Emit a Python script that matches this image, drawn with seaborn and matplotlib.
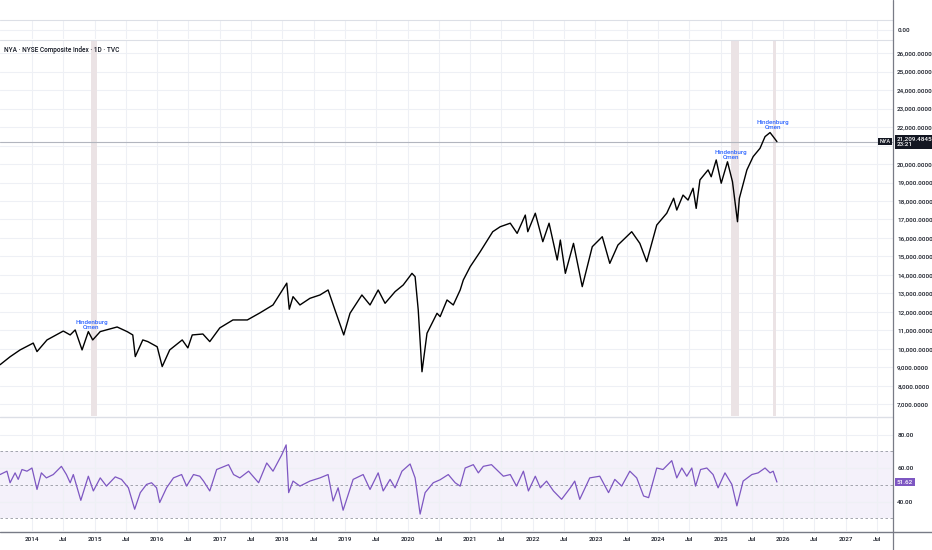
import numpy as np
import pandas as pd
import matplotlib
matplotlib.use("Agg")
import matplotlib.pyplot as plt
import matplotlib.transforms as mtransforms
from matplotlib.lines import Line2D
import seaborn as sns

# ---------------- data ----------------
title = "NYA · NYSE Composite Index · 1D · TVC"
price_t = [2013.49, 2013.65, 2013.81, 2014.02, 2014.08, 2014.24, 2014.50, 2014.61, 2014.69, 2014.80,
           2014.90, 2014.97, 2015.09, 2015.36, 2015.52, 2015.61, 2015.65, 2015.77, 2015.85, 2016.00,
           2016.08, 2016.20, 2016.40, 2016.49, 2016.56, 2016.73, 2016.84, 2017.00, 2017.21, 2017.44,
           2017.64, 2017.85, 2018.07, 2018.11, 2018.17, 2018.28, 2018.44, 2018.60, 2018.73, 2018.84,
           2018.98, 2019.08, 2019.27, 2019.40, 2019.53, 2019.64, 2019.80, 2019.93, 2020.07, 2020.12,
           2020.17, 2020.23, 2020.31, 2020.39, 2020.47, 2020.52, 2020.63, 2020.73, 2020.84, 2020.89,
           2021.00, 2021.16, 2021.36, 2021.48, 2021.64, 2021.75, 2021.88, 2021.92, 2022.04, 2022.16,
           2022.26, 2022.39, 2022.44, 2022.52, 2022.65, 2022.79, 2022.95, 2023.11, 2023.23, 2023.36,
           2023.58, 2023.71, 2023.82, 2023.98, 2024.14, 2024.25, 2024.30, 2024.40, 2024.48, 2024.56,
           2024.61, 2024.67, 2024.80, 2024.85, 2024.93, 2025.01, 2025.11, 2025.19, 2025.27, 2025.30,
           2025.42, 2025.52, 2025.63, 2025.71, 2025.79, 2025.84, 2025.90]
price_v = [9150, 9580, 9950, 10320, 9860, 10490, 10970, 10760, 11030, 9950,
           10940, 10490, 10940, 11190, 10940, 10760, 9590, 10490, 10400, 10120,
           9050, 9950, 10490, 10060, 10760, 10810, 10400, 11140, 11570, 11570,
           11950, 12380, 13560, 12150, 12830, 12380, 12740, 12920, 13190, 12110,
           10760, 11930, 12920, 12380, 13190, 12470, 13100, 13460, 14090, 13910,
           12110, 8770, 10850, 11390, 11930, 11750, 12650, 12380, 13190, 13730,
           14450, 15260, 16340, 16610, 16800, 16250, 17240, 16340, 17340, 15800,
           16800, 14810, 15890, 14090, 15710, 13370, 15530, 16070, 14630, 15620,
           16340, 15710, 14720, 16700, 17340, 18150, 17510, 18320, 18050, 18690,
           17600, 19140, 19680, 19310, 20220, 18960, 20120, 19040, 16880, 18150,
           19680, 20400, 20850, 21480, 21700, 21480, 21209.4845]
last_price_text = "21,209.4845"
last_time_text = "23:21"
symbol = "NYA"

rsi_t = [2013.49, 2013.60, 2013.65, 2013.73, 2013.78, 2013.84, 2013.92, 2014.00, 2014.08, 2014.15,
         2014.23, 2014.34, 2014.47, 2014.55, 2014.61, 2014.66, 2014.78, 2014.90, 2014.98, 2015.09,
         2015.19, 2015.33, 2015.43, 2015.54, 2015.64, 2015.73, 2015.83, 2015.91, 2015.99, 2016.04,
         2016.15, 2016.26, 2016.39, 2016.47, 2016.58, 2016.68, 2016.74, 2016.84, 2016.95, 2017.14,
         2017.22, 2017.32, 2017.46, 2017.62, 2017.75, 2017.85, 2017.99, 2018.06, 2018.10, 2018.17,
         2018.28, 2018.44, 2018.60, 2018.73, 2018.81, 2018.89, 2018.97, 2019.13, 2019.29, 2019.40,
         2019.53, 2019.61, 2019.72, 2019.80, 2019.91, 2020.04, 2020.12, 2020.20, 2020.28, 2020.41,
         2020.52, 2020.65, 2020.76, 2020.84, 2020.92, 2021.05, 2021.13, 2021.21, 2021.34, 2021.42,
         2021.53, 2021.64, 2021.74, 2021.85, 2021.93, 2022.04, 2022.12, 2022.22, 2022.33, 2022.46,
         2022.60, 2022.67, 2022.75, 2022.91, 2023.07, 2023.21, 2023.31, 2023.42, 2023.55, 2023.66,
         2023.77, 2023.85, 2023.98, 2024.08, 2024.22, 2024.30, 2024.38, 2024.46, 2024.54, 2024.60,
         2024.68, 2024.78, 2024.88, 2024.96, 2025.07, 2025.18, 2025.26, 2025.36, 2025.50, 2025.60,
         2025.71, 2025.79, 2025.84, 2025.90]
rsi_v = [56.1, 58.1, 51.2, 57.1, 53.2, 59.1, 58.1, 60.0, 47.2, 57.1,
         54.1, 56.1, 61.0, 56.1, 51.2, 56.1, 40.7, 55.1, 46.3, 54.1,
         49.2, 54.7, 53.2, 48.2, 35.4, 45.3, 50.2, 51.2, 48.2, 39.4,
         48.2, 54.1, 56.1, 49.2, 56.1, 55.1, 52.2, 46.3, 59.1, 62.0,
         56.1, 54.1, 58.1, 51.2, 63.0, 58.1, 67.9, 73.8, 45.3, 52.2,
         49.2, 52.2, 54.1, 56.1, 40.3, 48.2, 34.8, 53.2, 56.1, 47.2,
         57.1, 46.3, 53.2, 48.2, 58.1, 62.4, 54.1, 32.5, 45.3, 51.2,
         53.0, 56.1, 51.2, 49.2, 60.0, 62.0, 57.1, 61.0, 62.0, 59.1,
         55.1, 56.1, 49.2, 58.1, 46.3, 55.1, 48.2, 52.2, 46.3, 41.3,
         48.2, 52.2, 41.3, 54.1, 55.1, 45.3, 53.2, 49.2, 58.1, 54.1,
         43.3, 42.3, 60.0, 59.1, 64.4, 54.1, 60.0, 55.1, 60.0, 49.2,
         59.1, 60.0, 56.1, 48.2, 57.1, 50.2, 37.4, 52.2, 56.1, 57.1,
         60.0, 57.1, 58.1, 51.62]
rsi_levels = [70, 50, 30]

omen_start = [2014.95, 2025.16, 2025.83]
omen_end = [2015.04, 2025.29, 2025.89]
omen_label = "Hindenburg\nOmen"

price_ticks = list(range(7000, 27000, 1000))
rsi_ticks = [40, 60, 80]
date_ticks = [2014 + 0.5 * i for i in range(28)]
date_labels = [str(int(t)) if float(t).is_integer() else "Jul" for t in date_ticks]

# ---------------- styling ----------------
sns.set_theme(style="white")
plt.rcParams['font.family'] = ['Roboto', 'DejaVu Sans']
plt.rcParams['font.weight'] = 500

W, H = 932, 550
fig = plt.figure(figsize=(W / 100, H / 100), dpi=100)
fig.patch.set_facecolor("white")


def rect(x0, y0, x1, y1):
    return [x0 / W, 1 - y1 / H, (x1 - x0) / W, (y1 - y0) / H]


XR = 893
ax_top = fig.add_axes(rect(0, 20, XR, 39))
ax_main = fig.add_axes(rect(0, 40, XR, 416))
ax_rsi = fig.add_axes(rect(0, 418, XR, 531))

xlim = (2013.489, 2027.754)
GRID = "#eef0f5"
TXT = "#131722"
FS = 4.5

for ax in (ax_top, ax_main, ax_rsi):
    ax.set_xlim(*xlim)
    for s in ax.spines.values():
        s.set_visible(False)
    ax.yaxis.tick_right()
    ax.tick_params(axis="both", length=0, labelsize=FS, labelcolor=TXT, pad=3)
    ax.set_xticks(date_ticks)
    ax.grid(True, color=GRID, lw=0.8)
    ax.set_axisbelow(True)
    ax.set_facecolor("white")

# top empty pane
ax_top.set_ylim(-1, 1)
ax_top.set_yticks([0])
ax_top.set_yticklabels(["0.00"])
ax_top.set_xticklabels([])

# main price pane
last_p = price_v[-1]
ax_main.set_ylim(6378, 26703)
ax_main.set_yticks(price_ticks)
# the tick label hidden behind the last-price box is left blank, as in the reference
ax_main.set_yticklabels(["" if abs(v - last_p) < 500 else f"{v:,.4f}" for v in price_ticks])
ax_main.set_xticklabels([])
for s, e in zip(omen_start, omen_end):
    ax_main.axvspan(s, e, color="#ebe3e5", zorder=0.6, lw=0)

df_price = pd.DataFrame({"t": price_t, "close": price_v})
sns.lineplot(data=df_price, x="t", y="close", ax=ax_main, color="black", lw=1.0,
             sort=True, zorder=3)
ax_main.set_xlabel("")
ax_main.set_ylabel("")

ax_main.axhline(last_p, color="#b2b5be", lw=0.8, zorder=2)
blend = mtransforms.blended_transform_factory(ax_main.transAxes, ax_main.transData)
ax_main.text(0.9975, last_p, symbol, transform=blend, ha="right", va="center",
             color="white", fontsize=FS - 0.4, zorder=5,
             bbox=dict(fc=TXT, ec="none", pad=1.0))
ax_main.text(1.004, last_p, f"{last_price_text}\n{last_time_text}", transform=blend,
             ha="left", va="center", color="white", fontsize=FS, linespacing=1.1,
             clip_on=False, zorder=5, bbox=dict(fc=TXT, ec="none", pad=1.2))

for s, e in zip(omen_start, omen_end):
    sel = df_price[(df_price.t >= s - 0.12) & (df_price.t <= e + 0.05)]
    top = sel.close.max()
    ax_main.annotate(omen_label, xy=(s, top), xytext=(0, 1.5), textcoords="offset points",
                     ha="center", va="bottom", color="#2962ff", fontsize=FS,
                     linespacing=1.0, zorder=6)

fig.text(4 / W, 1 - 50 / H, title, fontsize=FS + 0.2, color=TXT, va="center", ha="left")

# RSI pane
ax_rsi.set_ylim(22.4, 89.85)
ax_rsi.set_yticks(rsi_ticks)
ax_rsi.set_yticklabels([f"{v:.2f}" for v in rsi_ticks])
ax_rsi.axhspan(rsi_levels[-1], rsi_levels[0], color="#7e57c2", alpha=0.08, lw=0, zorder=0.5)
for lv in rsi_levels:
    ax_rsi.axhline(lv, color="#9598a1", lw=0.6, ls=(0, (3, 3)), zorder=1)
df_rsi = pd.DataFrame({"t": rsi_t, "rsi": rsi_v})
sns.lineplot(data=df_rsi, x="t", y="rsi", ax=ax_rsi, color="#7e57c2", lw=0.9, zorder=3)
ax_rsi.set_xlabel("")
ax_rsi.set_ylabel("")
ax_rsi.set_xticklabels(date_labels)
ax_rsi.tick_params(axis="x", pad=4.5)
blend_r = mtransforms.blended_transform_factory(ax_rsi.transAxes, ax_rsi.transData)
ax_rsi.text(1.004, rsi_v[-1], f"{rsi_v[-1]:.2f}", transform=blend_r, ha="left", va="center",
            color="white", fontsize=FS, clip_on=False, zorder=5,
            bbox=dict(fc="#7e57c2", ec="none", pad=1.2))

# pane separators and axis lines
def hline_px(y, x0, x1, color, lw):
    fig.add_artist(Line2D([x0 / W, x1 / W], [1 - y / H, 1 - y / H], color=color, lw=lw))

hline_px(19.5, 0, XR, "#dcdfe6", 0.8)
hline_px(39.5, 0, XR, "#dcdfe6", 0.8)
hline_px(417, 0, XR, "#dcdfe6", 1.0)
hline_px(531.5, 0, W, "#787b86", 1.0)
fig.add_artist(Line2D([XR / W, XR / W], [0, 1], color="#787b86", lw=0.9))

fig.savefig("out.png", dpi=100, facecolor="white")
